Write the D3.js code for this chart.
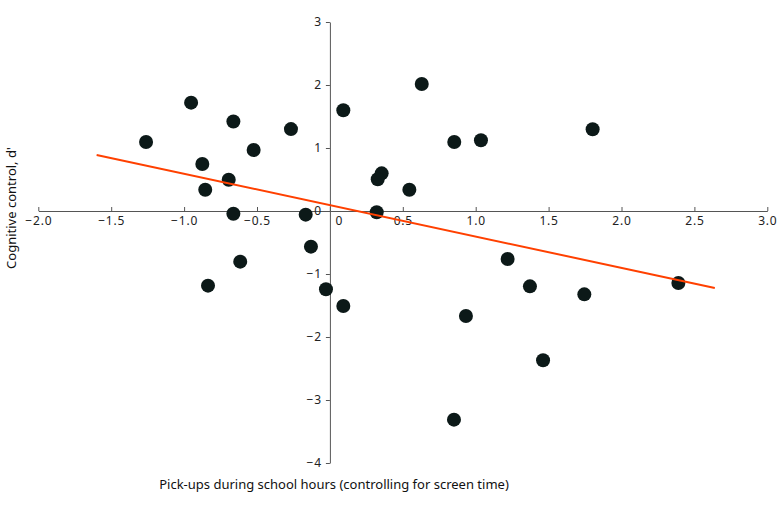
<!DOCTYPE html>
<html>
<head>
<meta charset="utf-8">
<script src="https://cdn.jsdelivr.net/npm/d3@7"></script>
<style>
  body { margin: 0; background: #fff; }
  .tick text { font-family: "Noto Sans", sans-serif; font-size: 12px; fill: #222; letter-spacing: 0.8px; }
  .title { font-family: "Noto Sans", sans-serif; font-size: 13px; fill: #111; }
</style>
</head>
<body>
<svg id="chart" width="780" height="508"></svg>
<script>
// pick-ups during school hours (x) vs cognitive control d' (y)
const pickups = [
  -0.952, -0.662, -0.267, -1.261, -0.523, -0.875, -0.694, -0.855, -0.662, -0.166,
  -0.13, -0.615, -0.836, 0.092, 0.63, 0.853, 1.036, 1.802, 0.355, 0.328,
  0.545, 0.321, -0.027, 0.092, 1.219, 1.372, 1.745, 2.39, 0.933, 1.462, 0.851
];
const dprime = [
  1.72, 1.42, 1.30, 1.095, 0.968, 0.746, 0.497, 0.338, -0.043, -0.058,
  -0.566, -0.804, -1.185, 1.60, 2.016, 1.095, 1.122, 1.297, 0.598, 0.503,
  0.338, -0.02, -1.243, -1.508, -0.762, -1.196, -1.323, -1.143, -1.667, -2.37, -3.312
];
// fitted line end points
const fitX = [-1.6, 2.64];
const fitY = [0.89, -1.222];

const xTicks = [-2, -1.5, -1, -0.5, 0, 0.5, 1, 1.5, 2, 2.5, 3];
const yTicks = [-4, -3, -2, -1, 0, 1, 2, 3];

const svg = d3.select("#chart");

const x = d3.scaleLinear().domain([-2, 3]).range([38.3, 767.3]);
const y = d3.scaleLinear().domain([-4, 3]).range([463, 22]);

const axisColor = "#555";

// x axis through y = 0, ticks pointing up
const xAxis = svg.append("g")
  .attr("transform", `translate(0,${y(0)})`)
  .call(d3.axisBottom(x)
    .tickValues(xTicks)
    .tickSizeInner(-4)
    .tickSizeOuter(0)
    .tickPadding(4)
    .tickFormat(d => d === 0 ? "0" : d3.format(".1f")(d)));
xAxis.selectAll(".tick text").attr("y", 5);
xAxis.selectAll(".tick").filter(d => d === 0).select("text").attr("x", 9);

// y axis through x = 0
const yAxis = svg.append("g")
  .attr("transform", `translate(${x(0)},0)`)
  .call(d3.axisLeft(y)
    .tickValues(yTicks)
    .tickSizeInner(4)
    .tickSizeOuter(0)
    .tickPadding(4)
    .tickFormat(d3.format("d")));

svg.selectAll(".domain, .tick line").attr("stroke", axisColor);

// points
const pts = pickups.map((v, i) => ({ x: v, y: dprime[i] }));
svg.append("g")
  .selectAll("circle")
  .data(pts)
  .join("circle")
  .attr("cx", d => x(d.x))
  .attr("cy", d => y(d.y))
  .attr("r", 7)
  .attr("fill", "#0c1918");

// regression line
svg.append("path")
  .datum(fitX.map((v, i) => [v, fitY[i]]))
  .attr("d", d3.line().x(d => x(d[0])).y(d => y(d[1])))
  .attr("fill", "none")
  .attr("stroke", "#ff4000")
  .attr("stroke-width", 2);

// axis titles
svg.append("text")
  .attr("class", "title")
  .attr("x", 334)
  .attr("y", 489)
  .attr("text-anchor", "middle")
  .text("Pick-ups during school hours (controlling for screen time)");

svg.append("text")
  .attr("class", "title")
  .attr("transform", "translate(16,208) rotate(-90)")
  .attr("text-anchor", "middle")
  .text("Cognitive control, d'");
</script>
</body>
</html>
